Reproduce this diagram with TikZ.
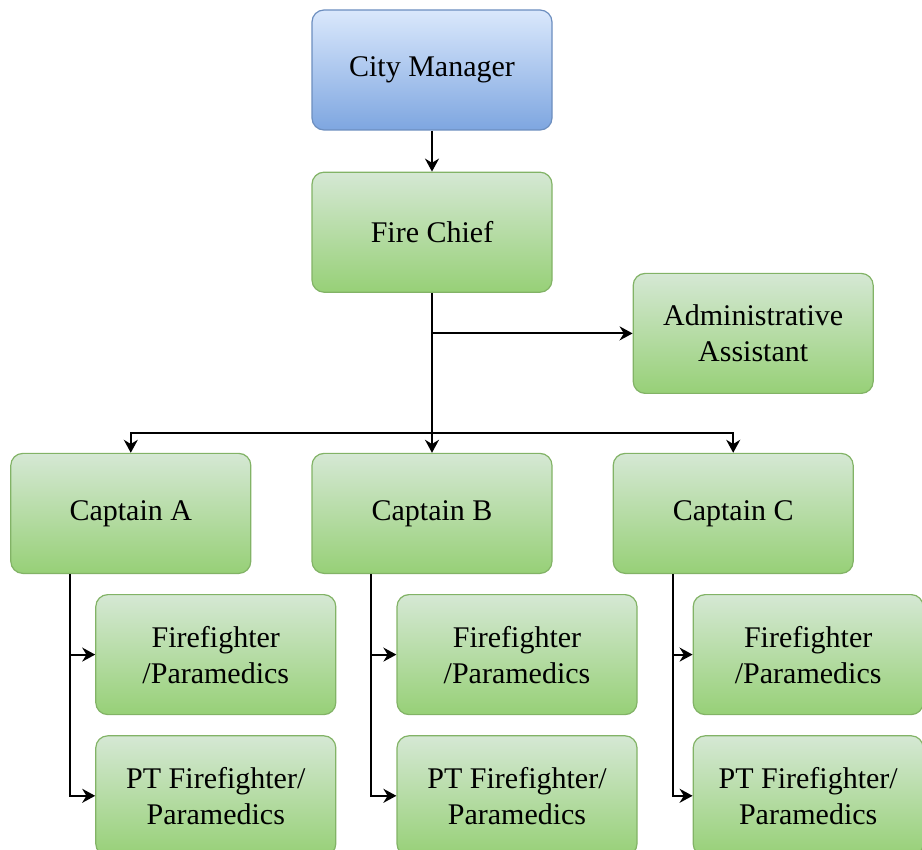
\documentclass[tikz,border=0pt]{standalone}
\usepackage{fontspec}
\setmainfont{Liberation Serif}
\usetikzlibrary{positioning,arrows.meta}

\definecolor{bluetop}{HTML}{DAE8FC}
\definecolor{bluebot}{HTML}{7EA6E0}
\definecolor{blueline}{HTML}{6C8EBF}
\definecolor{greentop}{HTML}{D5E8D4}
\definecolor{greenbot}{HTML}{97D077}
\definecolor{greenline}{HTML}{82B366}

\tikzset{
  box/.style={rounded corners=6pt, line width=0.6pt, minimum width=120pt,
    minimum height=60pt, align=center, font=\fontsize{15}{18}\selectfont},
  bluebox/.style={box, draw=blueline, top color=bluetop, bottom color=bluebot},
  greenbox/.style={box, draw=greenline, top color=greentop, bottom color=greenbot},
  arr/.style={-{Stealth[length=6.5pt,width=7pt]}, line width=1pt}
}

\begin{document}
\begin{tikzpicture}
  \useasboundingbox (0,0) rectangle (461pt,-425pt);

  \node[bluebox] (manager) at (216pt,-35pt) {City Manager};
  \node[greenbox, below=20.5pt of manager] (chief) {Fire Chief};
  \node[greenbox, below right=-10pt and 40pt of chief] (admin) {Administrative\\Assistant};

  \node[greenbox, below=80pt of chief] (capB) {Captain B};
  \node[greenbox, left=30pt of capB] (capA) {Captain A};
  \node[greenbox, right=30pt of capB] (capC) {Captain C};

  % crew under each captain
  \foreach \c/\gap/\w in {A/12.5pt/120pt, B/12.5pt/120pt, C/10pt/115pt} {
    \coordinate (t\c) at ([xshift=30pt]cap\c.south west);
    \node[greenbox, minimum width=\w, below right=10pt and \gap of t\c] (ff\c)
      {Firefighter\\/Paramedics};
    \node[greenbox, minimum width=\w, below=10pt of ff\c] (pt\c)
      {PT Firefighter/\\Paramedics};
    \draw[arr] (t\c) |- (ff\c);
    \draw[arr] (t\c) |- (pt\c);
  }

  \coordinate (bus) at ([yshift=10pt]capB.north);

  \draw[arr] (manager) -- (chief);
  \draw[arr] (chief) -- (capB);
  \draw[arr] (chief.south |- admin.west) -- (admin);
  \draw[arr] (bus) -| (capA);
  \draw[arr] (bus) -| (capC);
\end{tikzpicture}
\end{document}
